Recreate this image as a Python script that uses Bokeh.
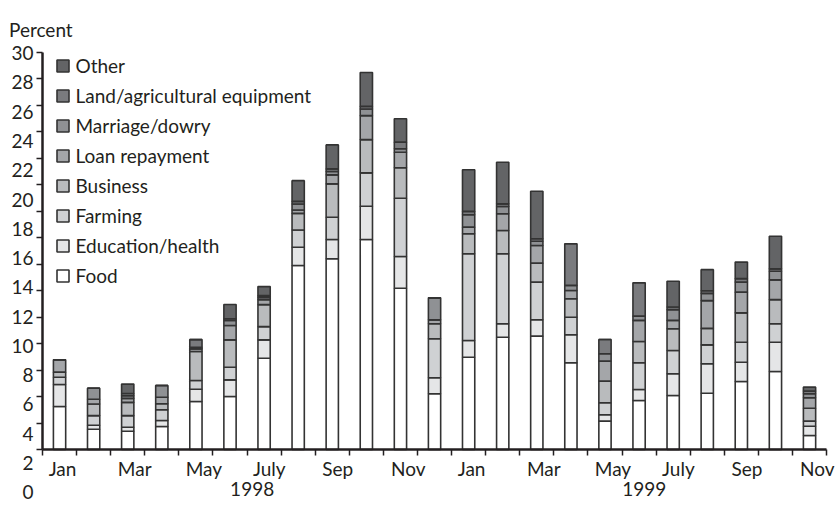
from bokeh.plotting import figure
from bokeh.models import Range1d, LinearAxis, FixedTicker, Legend, LegendItem, ColumnDataSource, Label
from bokeh.embed import file_html
from bokeh.resources import INLINE

# ---------------- data ----------------
months = ["Jan", "Feb", "Mar", "Apr", "May", "Jun", "July", "Aug", "Sep", "Oct", "Nov", "Dec",
          "Jan", "Feb", "Mar", "Apr", "May", "Jun", "July", "Aug", "Sep", "Oct", "Nov"]
years = ["1998", "1999"]
year_month_counts = [12, 11]
categories = ["Food", "Education/health", "Farming", "Business", "Loan repayment",
              "Marriage/dowry", "Land/agricultural equipment", "Other"]
y_tick_labels = [0, 2, 4, 6, 8, 10, 12, 14, 16, 18, 20, 22, 24, 26, 28, 30]

food =     [3.25, 1.53, 1.38, 1.74, 3.62, 4.00, 6.89, 13.89, 14.40, 15.86, 12.18, 4.21,
            6.97, 8.48, 8.56, 6.55, 2.14, 3.70, 4.08, 4.25, 5.13, 5.89, 1.06]
edu =      [1.66, 0.30, 0.30, 0.45, 0.93, 1.26, 1.39, 1.38, 1.46, 2.51, 2.39, 1.21,
            1.26, 1.01, 1.24, 2.11, 0.48, 0.83, 1.64, 2.22, 1.46, 2.21, 0.70]
farming =  [0.55, 0.73, 0.88, 0.81, 0.66, 0.95, 1.00, 1.31, 1.68, 2.52, 4.40, 2.94,
            6.55, 5.29, 2.84, 1.33, 0.91, 2.02, 1.76, 1.43, 1.51, 1.39, 0.38]
business = [0.38, 0.88, 1.00, 0.45, 2.19, 2.07, 1.66, 1.25, 2.52, 2.51, 2.30, 1.13,
            1.51, 1.76, 1.43, 1.39, 1.63, 1.61, 1.64, 1.25, 2.22, 1.83, 0.98]
loan =     [0.94, 0.35, 0.30, 0.50, 0.20, 1.08, 0.38, 0.26, 0.68, 1.81, 1.18, 0.30,
            0.50, 1.26, 1.34, 0.63, 1.51, 1.59, 0.63, 2.09, 1.56, 1.49, 0.79]
marriage = [0.00, 0.83, 0.20, 0.88, 0.12, 0.38, 0.17, 0.45, 0.25, 0.50, 0.26, 1.66,
            0.94, 0.55, 0.32, 0.38, 0.56, 0.32, 0.81, 0.55, 0.76, 0.65, 0.30]
land =     [0.00, 0.00, 0.17, 0.00, 0.58, 0.13, 0.13, 0.20, 0.20, 0.20, 0.50, 0.00,
            0.25, 0.20, 0.18, 3.15, 1.08, 2.52, 0.20, 0.20, 0.26, 0.18, 0.20]
other =    [0.00, 0.00, 0.71, 0.00, 0.00, 1.08, 0.68, 1.56, 1.81, 2.56, 1.77, 0.00,
            3.15, 3.14, 3.59, 0.00, 0.00, 0.00, 1.94, 1.59, 1.25, 2.46, 0.30]

# ---------------- style / layout ----------------
colors = ["#ffffff", "#e5e6e7", "#cfd1d3", "#b9bbbd", "#a4a6a9", "#8f9194", "#7a7b7e", "#636466"]
INK = "#231f20"
FONT = "Lato"
FS = "19px"

W, H = 837, 505
X0 = 42.0            # canvas x of the y axis line
PXM = 34.09          # pixels per month
PY = 13.243          # pixels per unit (tick scale)
Y0 = 449.0           # canvas y of value 0 (tick scale)
PYL = 14.635         # pixels per unit (label scale)
Y0L = 491.7          # canvas y of label "0"
BAR_W = 0.36
# approximate advance widths (px) of month labels, to left-align them with the bars
label_w = {"Jan": 25, "Mar": 33, "May": 35, "July": 29.5, "Sep": 30, "Nov": 34.6}

n = len(months)
keys = ["food", "edu", "farming", "business", "loan", "marriage", "land", "other"]
series = [food, edu, farming, business, loan, marriage, land, other]

p = figure(width=W, height=H, output_backend="svg", toolbar_location=None, title=None,
           x_range=Range1d(-X0 / PXM, (W - X0) / PXM), y_range=Range1d((Y0 - H) / PY, Y0 / PY),
           x_axis_location=None, y_axis_location=None,
           min_border_left=0, min_border_right=0, min_border_top=0, min_border_bottom=0)
p.extra_y_ranges = {"lab": Range1d((Y0L - H) / PYL, Y0L / PYL)}
p.outline_line_color = None
p.grid.visible = False
p.background_fill_color = "white"
p.border_fill_color = "white"

data = dict(x=[i + 0.5 for i in range(n)])
for k, s in zip(keys, series):
    data[k] = s
src = ColumnDataSource(data)

rs = p.vbar_stack(stackers=keys, x="x", width=BAR_W, source=src,
                  fill_color=colors, line_color="#333333", line_width=1.6)

hidden_labels = dict(major_label_text_color=None, major_label_text_font_size="1px",
                     major_label_standoff=0)

# y axis (line + ticks)
yax = LinearAxis(ticker=FixedTicker(ticks=y_tick_labels), bounds=(0, 30), fixed_location=0,
                 axis_line_width=2.5, axis_line_color=INK,
                 major_tick_out=6, major_tick_in=0, major_tick_line_width=1.5,
                 major_tick_line_color=INK, minor_tick_line_color=None, **hidden_labels)
p.add_layout(yax, "left")
# y labels (own scale)
ylab = LinearAxis(y_range_name="lab", ticker=FixedTicker(ticks=y_tick_labels), fixed_location=0,
                  axis_line_color=None, major_tick_line_color=None, minor_tick_line_color=None,
                  major_tick_out=0, major_tick_in=0, major_label_standoff=9,
                  major_label_text_font=FONT, major_label_text_font_size=FS,
                  major_label_text_color=INK)
p.add_layout(ylab, "left")

# x axis (ticks at month boundaries)
xax = LinearAxis(ticker=FixedTicker(ticks=list(range(n + 1))), bounds=(0, n), fixed_location=0,
                 axis_line_width=2.5, axis_line_color=INK,
                 major_tick_out=6, major_tick_in=0, major_tick_line_width=1.5,
                 major_tick_line_color=INK, minor_tick_line_color=None, **hidden_labels)
p.add_layout(xax, "below")

# month labels, every other month, starting at the bar's left edge
mpos = [i + 0.5 + (label_w[months[i]] / 2 - 9.5) / PXM for i in range(0, n, 2)]
mlab = LinearAxis(ticker=FixedTicker(ticks=mpos),
                  major_label_overrides={pos: months[i] for pos, i in zip(mpos, range(0, n, 2))},
                  fixed_location=0, axis_line_color=None, major_tick_line_color=None,
                  minor_tick_line_color=None, major_tick_out=0, major_tick_in=0,
                  major_label_standoff=7,
                  major_label_text_font=FONT, major_label_text_font_size=FS,
                  major_label_text_color=INK)
p.add_layout(mlab, "below")

# year labels
ypos = []
start = 0
for c in year_month_counts:
    ypos.append(start + c / 2 + 0.15)
    start += c
yrlab = LinearAxis(ticker=FixedTicker(ticks=ypos),
                   major_label_overrides={pos: yr for pos, yr in zip(ypos, years)},
                   fixed_location=0, axis_line_color=None, major_tick_line_color=None,
                   minor_tick_line_color=None, major_tick_out=0, major_tick_in=0,
                   major_label_standoff=32,
                   major_label_text_font=FONT, major_label_text_font_size=FS,
                   major_label_text_color=INK)
p.add_layout(yrlab, "below")

# "Percent" label
p.add_layout(Label(x=(8.5 - X0) / PXM, y=(Y0 - 29.3) / PY, text="Percent",
                   text_font=FONT, text_font_size=FS, text_color=INK,
                   text_baseline="alphabetic", text_align="left"))

# legend (top item = Other)
items = [LegendItem(label=c, renderers=[r]) for c, r in reversed(list(zip(categories, rs)))]
legend = Legend(items=items, location=(54.5, 218), orientation="vertical",
                glyph_width=15, glyph_height=15, label_height=24, spacing=6,
                label_standoff=6, padding=0, margin=0,
                border_line_color=None, background_fill_alpha=0,
                label_text_font=FONT, label_text_font_size=FS, label_text_color=INK)
p.add_layout(legend)

open("out.html", "w").write(file_html(p, INLINE))
